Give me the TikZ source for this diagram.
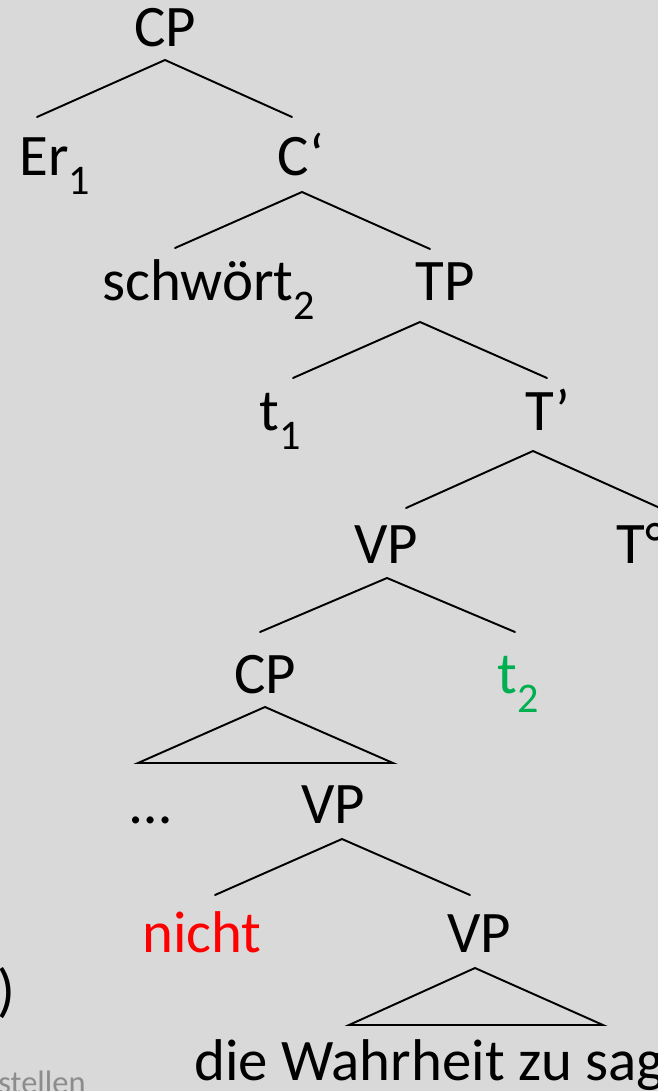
\documentclass[tikz,border=0pt]{standalone}
\usepackage{fontspec}
\setmainfont{Carlito}
\usepackage{xcolor}
\definecolor{slidebg}{HTML}{D9D9D9}
\definecolor{tracegreen}{HTML}{00B050}
\definecolor{negred}{HTML}{FF0000}
\definecolor{notegray}{HTML}{8C8C8C}
\newcommand{\subidx}[1]{\raisebox{-11pt}{\fontsize{24}{28}\selectfont #1}}

\begin{document}
\begin{tikzpicture}[x=0.02cm,y=-0.02cm,
  lbl/.style={anchor=base west,inner sep=0pt,font=\fontsize{33.5}{40}\selectfont},
  branch/.style={line width=1.1pt,line cap=round,line join=miter}]
		\useasboundingbox (0,0) rectangle (658,1091);
		\clip (0,0) rectangle (658,1091);
		\fill[slidebg] (0,0) rectangle (658,1091);
		% labels
		\node[lbl] (cp)    at (134,47)  {CP};
		\node[lbl] (er)    at (19,175)  {Er\subidx{1}};
		\node[lbl] (cbar)  at (277,175) {C‘};
		\node[lbl] (schw)  at (102,300) {schwört\subidx{2}};
		\node[lbl] (tp)    at (415,300) {TP};
		\node[lbl] (tone)  at (259,430) {t\subidx{1}};
		\node[lbl] (tbar)  at (525,430) {T’};
		\node[lbl] (vp)    at (354,563) {VP};
		\node[lbl] (thead) at (616,563) {T°};
		\node[lbl] (cpb)   at (234,693) {CP};
		\node[lbl,text=tracegreen] (ttwo) at (497,693) {t\subidx{2}};
		\node[lbl] (dots)  at (130,823) {…};
		\node[lbl] (vpb)   at (301,823) {VP};
		\node[lbl,text=negred] (neg) at (142,952) {nicht};
		\node[lbl] (vpc)   at (447,952) {VP};
		\node[lbl] (phrase) at (194,1080) {die Wahrheit zu sagen};
		\node[lbl] (paren) at (-3,1010) {)};
		\node[lbl,text=notegray,font=\fontsize{18.5}{22}\selectfont] (note) at (-2,1093) {stellen};
		% branch points
		\coordinate (cp-a) at (165,60);  \coordinate (cp-l) at (37,117);  \coordinate (cp-r) at (292,117);
		\coordinate (cb-a) at (302,192); \coordinate (cb-l) at (175,248); \coordinate (cb-r) at (430,249);
		\coordinate (tp-a) at (420,322); \coordinate (tp-l) at (293,378); \coordinate (tp-r) at (547,378);
		\coordinate (tb-a) at (533,451); \coordinate (tb-l) at (406,508); \coordinate (tb-r) at (660,508);
		\coordinate (vp-a) at (387,578); \coordinate (vp-l) at (260,632); \coordinate (vp-r) at (515,632);
		\coordinate (cq-a) at (265,707); \coordinate (cq-l) at (138,763); \coordinate (cq-r) at (393,763);
		\coordinate (vb-a) at (342,839); \coordinate (vb-l) at (215,895); \coordinate (vb-r) at (470,895);
		\coordinate (vc-a) at (475,968); \coordinate (vc-l) at (349,1025); \coordinate (vc-r) at (603,1025);
		% branches
		\foreach \n in {cp,cb,tp,tb,vp,vb}
			\draw[branch] (\n-l) -- (\n-a) -- (\n-r);
		% triangles
		\foreach \n in {cq,vc}
			\draw[branch] (\n-l) -- (\n-a) -- (\n-r) -- cycle;
	\end{tikzpicture}
\end{document}
